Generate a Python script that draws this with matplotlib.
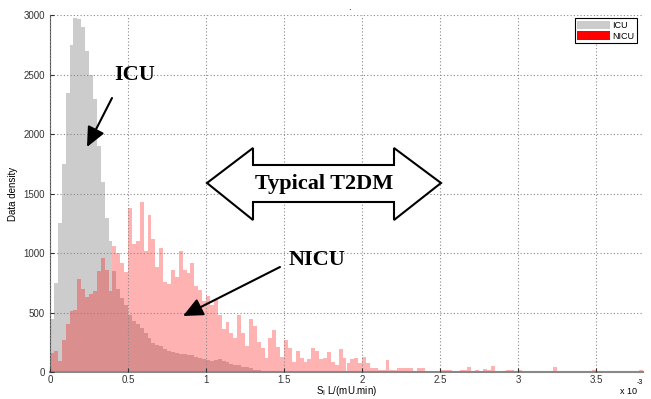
import matplotlib.pyplot as plt
import numpy as np
from matplotlib.patches import Patch, Polygon

# ── data (bin width 0.025 x 1e-3, bins start at 0) ───────────────────────────
BIN_W = 0.025

icu = [
    450, 750, 1250, 1750, 2350, 2750, 2980, 2970, 2900, 2700,
    2500, 2300, 1900, 1600, 1300, 1100, 850, 700, 620, 560,
    480, 430, 400, 370, 330, 290, 245, 230, 215, 195,
    175, 165, 160, 155, 150, 145, 140, 130, 120, 110,
    100, 95, 100, 110, 95, 80, 65, 60, 55, 45,
    40, 30, 20, 15, 12, 10, 8, 6, 5, 5,
    3, 3, 2, 2,
]

nicu = [
    160, 180, 90, 270, 400, 510, 520, 780, 700, 630,
    660, 680, 850, 960, 860, 680, 1060, 1000, 920, 840,
    1380, 1080, 1100, 1430, 1020, 1320, 1120, 880, 1040, 760,
    740, 860, 800, 1020, 860, 830, 920, 720, 690, 600,
    640, 560, 610, 480, 360, 420, 330, 290, 480, 330,
    220, 450, 390, 250, 200, 120, 290, 350, 210, 130,
    270, 200, 80, 180, 120, 80, 110, 200, 180, 110,
    115, 170, 80, 60, 190, 115, 75, 110, 115, 75,
    125, 75, 30, 30, 15, 15, 100, 15, 15, 30,
    30, 30, 30, 0, 30, 30, 10, 0, 0, 0,
    20, 15, 20, 0, 0, 15, 15, 40, 0, 15,
    0, 25, 15, 50, 0, 0, 0, 15, 15, 0,
    15, 10, 0, 0, 0, 0, 0, 0, 0, 40,
    0, 0, 0, 0, 0, 0, 0, 0, 0, 20,
    0, 0, 0, 0, 0, 0, 0, 0, 0, 0,
    0, 15,
]

legend_labels = ["ICU", "NICU"]
x_ticks = [0, 0.5, 1, 1.5, 2, 2.5, 3, 3.5]
y_ticks = [0, 500, 1000, 1500, 2000, 2500, 3000]

W, H = 651, 399


def fig_xy(px, py):
    # pixel position (from top-left) -> figure fraction
    return px / W, 1 - py / H


def main():
    plt.rcParams["font.family"] = ["Liberation Sans", "DejaVu Sans"]
    fig = plt.figure(figsize=(W / 100, H / 100), dpi=100)
    ax = fig.add_axes([50 / W, 1 - 372 / H, 593 / W, 356.5 / H])

    icu_edges = np.arange(len(icu)) * BIN_W
    nicu_edges = np.arange(len(nicu)) * BIN_W
    ax.bar(icu_edges, icu, width=BIN_W, align="edge", color="#cccccc", linewidth=0)
    ax.bar(nicu_edges, nicu, width=BIN_W, align="edge", color="red", alpha=0.3, linewidth=0)

    ax.set_xlim(0, 3.8)
    ax.set_ylim(0, 3000)
    ax.set_xticks(x_ticks)
    ax.set_xticklabels([f"{t:g}" for t in x_ticks])
    ax.set_yticks(y_ticks)
    ax.tick_params(direction="in", length=3, labelsize=7, colors="#333333")
    ax.tick_params(axis="x", pad=2.5)
    ax.grid(True, linestyle=(0, (1, 2)), color="#888888", linewidth=0.8)
    ax.set_axisbelow(False)
    for s in ("top", "right"):
        ax.spines[s].set_visible(False)
    ax.spines["left"].set_color("#555555")
    ax.spines["bottom"].set_color("#888888")
    ax.spines["bottom"].set_linewidth(1.5)

    ax.set_xlabel(r"S$_\mathregular{I}$ L/(mU.min)", fontsize=7, va="center")
    ax.xaxis.set_label_coords(0.5, -(391 - 372) / 356.5)
    ax.set_ylabel("Data density", fontsize=7, labelpad=4)
    fig.text(*fig_xy(628, 396), "x 10", fontsize=6.5, ha="center", va="bottom")
    fig.text(*fig_xy(640, 386), "-3", fontsize=5, ha="center", va="bottom")
    fig.text(*fig_xy(349, 7), ".", fontsize=7, ha="center", va="center")

    handles = [Patch(facecolor="#cccccc"), Patch(facecolor="red")]
    leg = ax.legend(handles, legend_labels, loc="upper right", fontsize=6.5,
                    fancybox=False, framealpha=1, edgecolor="black",
                    handlelength=3.6, handleheight=1.0, borderpad=0.3,
                    labelspacing=0.15, handletextpad=0.3,
                    bbox_to_anchor=(0.998, 1.005))
    leg.get_frame().set_linewidth(0.8)

    # annotations
    serif = ["Liberation Serif", "DejaVu Serif"]
    fig.text(*fig_xy(134.5, 75), "ICU", family=serif, weight="bold",
             fontsize=16, ha="center", va="center")
    fig.text(*fig_xy(317, 260), "NICU", family=serif, weight="bold",
             fontsize=16, ha="center", va="center")

    arrow_kw = dict(arrowstyle="-|>,head_length=1.2,head_width=0.55",
                    color="black", lw=1.5, shrinkA=0, shrinkB=0)
    ax.annotate("", xy=fig_xy(87, 147), xytext=fig_xy(112, 98),
                xycoords="figure fraction", textcoords="figure fraction",
                arrowprops=arrow_kw)
    ax.annotate("", xy=fig_xy(183, 316), xytext=fig_xy(280, 267),
                xycoords="figure fraction", textcoords="figure fraction",
                arrowprops=arrow_kw)

    outline = [(207, 183), (253, 148), (253, 165), (394, 165), (394, 148),
               (441, 183), (394, 220), (394, 202), (253, 202), (253, 220)]
    poly = Polygon([fig_xy(px, py) for px, py in outline], closed=True,
                   facecolor="white", edgecolor="black", linewidth=1.5,
                   transform=fig.transFigure)
    fig.add_artist(poly)
    fig.text(*fig_xy(324, 184), "Typical T2DM", family=serif, weight="bold",
             fontsize=16, ha="center", va="center")

    fig.savefig("out.png", dpi=100)
    plt.close(fig)


if __name__ == "__main__":
    main()
